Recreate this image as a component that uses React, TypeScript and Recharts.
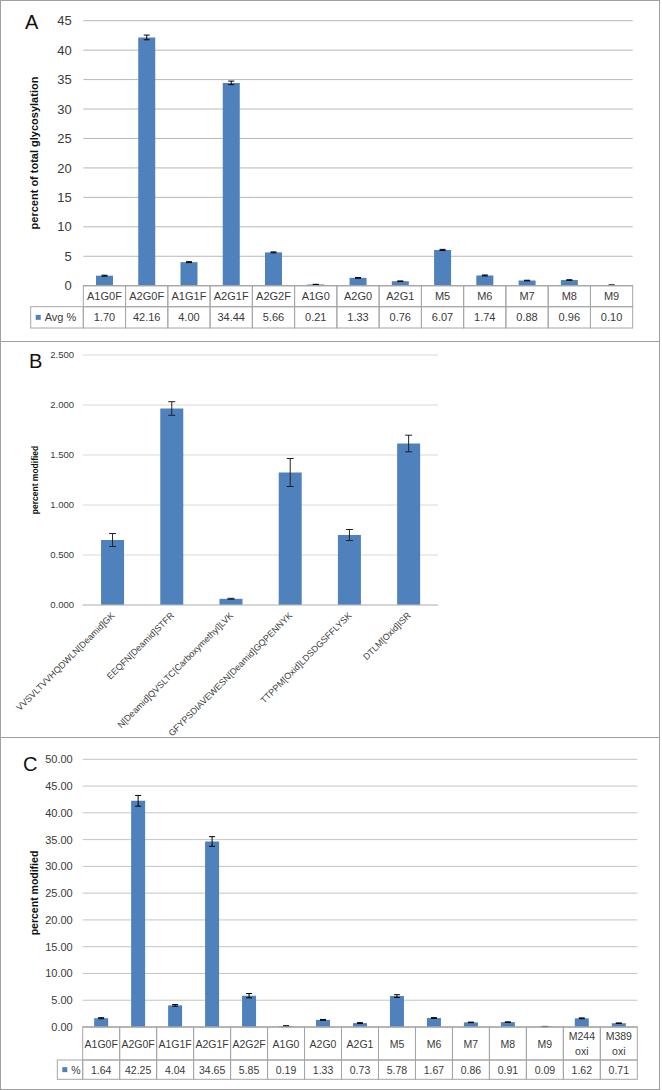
import React from 'react';
import { BarChart, Bar, XAxis, YAxis, CartesianGrid, ErrorBar } from 'recharts';

const FONT = '"Liberation Sans", Arial, sans-serif';
const BLUE = '#4F81BD';
const TXT = '#3a3a3a';
const TBL = '#a6a6a6';

// ---------- Panel A data ----------
const catsA = ['A1G0F', 'A2G0F', 'A1G1F', 'A2G1F', 'A2G2F', 'A1G0', 'A2G0', 'A2G1', 'M5', 'M6', 'M7', 'M8', 'M9'];
const avgA = [1.7, 42.16, 4.0, 34.44, 5.66, 0.21, 1.33, 0.76, 6.07, 1.74, 0.88, 0.96, 0.1];
const errA = [0.08, 0.4, 0.08, 0.3, 0.08, 0.03, 0.06, 0.05, 0.1, 0.08, 0.05, 0.05, 0.02];
const ticksA = [0, 5, 10, 15, 20, 25, 30, 35, 40, 45];

// ---------- Panel B data ----------
const catsB = [
  'VVSVLTVVHQDWLN[Deamid]GK',
  'EEQFN[Deamid]STFR',
  'N[Deamid]QVSLTC[Carboxymethyl]LVK',
  'GFYPSDIAVEWESN[Deamid]GQPENNYK',
  'TTPPM[Oxid]LDSDGSFFLYSK',
  'DTLM[Oxid]ISR',
];
const valsB = [0.65, 1.965, 0.062, 1.325, 0.7, 1.615];
const errB = [0.065, 0.068, 0.005, 0.14, 0.055, 0.083];
const ticksB = [0, 0.5, 1.0, 1.5, 2.0, 2.5];

// ---------- Panel C data ----------
const catsC = ['A1G0F', 'A2G0F', 'A1G1F', 'A2G1F', 'A2G2F', 'A1G0', 'A2G0', 'A2G1', 'M5', 'M6', 'M7', 'M8', 'M9', 'M244 oxi', 'M389 oxi'];
const valsC = [1.64, 42.25, 4.04, 34.65, 5.85, 0.19, 1.33, 0.73, 5.78, 1.67, 0.86, 0.91, 0.09, 1.62, 0.71];
const errC = [0.1, 1.0, 0.15, 0.9, 0.4, 0.04, 0.08, 0.08, 0.25, 0.08, 0.05, 0.05, 0.02, 0.08, 0.05];
const ticksC = [0, 5, 10, 15, 20, 25, 30, 35, 40, 45, 50];

const rows = (cats: string[], vals: number[], errs: number[]) =>
  cats.map((name, i) => ({ name, value: vals[i], err: errs[i] }));

const dataA = rows(catsA, avgA, errA);
const dataB = rows(catsB, valsB, errB);
const dataC = rows(catsC, valsC, errC);

// ---------- layouts ----------
const LA = { w: 662, h: 342, top: 20.7, left: 83.3, right: 632.7, bottom: 285.7, yW: 60, xH: 46 };
const LB = { w: 662, h: 396, top: 14, left: 82.7, right: 438, bottom: 264, yW: 60, xH: 120 };
const LC = { w: 662, h: 352, top: 22.3, left: 82.7, right: 637.3, bottom: 290, yW: 60, xH: 56 };

const marginOf = (L: any) => ({
  top: L.top,
  right: L.w - L.right,
  left: L.left - L.yW,
  bottom: L.h - L.bottom - L.xH,
});

type TableCfg = {
  band: number;
  row1: number;
  row2: number;
  values: number[];
  legendW: number;
  legendLabel: string;
  fs: number;
  lineH: number;
};

const TableTick = (props: any) => {
  const { x, y, payload, index, cfg } = props;
  const c: TableCfg = cfg;
  const left = x - c.band / 2;
  const lines = String(payload.value).split(' ');
  const textProps = {
    fontSize: c.fs,
    fill: TXT,
    fontFamily: FONT,
    textAnchor: 'middle' as const,
    dominantBaseline: 'central' as const,
  };
  return (
    <g>
      <rect x={left} y={y} width={c.band} height={c.row1} fill="none" stroke={TBL} strokeWidth={1} />
      <rect x={left} y={y + c.row1} width={c.band} height={c.row2} fill="none" stroke={TBL} strokeWidth={1} />
      {lines.map((ln, k) => (
        <text key={k} x={x} y={y + c.row1 / 2 + (k - (lines.length - 1) / 2) * c.lineH} {...textProps}>
          {ln}
        </text>
      ))}
      <text x={x} y={y + c.row1 + c.row2 / 2} {...textProps}>
        {c.values[index].toFixed(2)}
      </text>
      {index === 0 && (
        <g>
          <rect
            x={left - c.legendW}
            y={y + c.row1}
            width={c.legendW}
            height={c.row2}
            fill="none"
            stroke={TBL}
            strokeWidth={1}
          />
          <rect x={left - c.legendW + 5} y={y + c.row1 + c.row2 / 2 - 2.5} width={5} height={5} fill={BLUE} />
          <text
            x={left - c.legendW + 14}
            y={y + c.row1 + c.row2 / 2}
            fontSize={c.fs}
            fill={TXT}
            fontFamily={FONT}
            dominantBaseline="central"
          >
            {c.legendLabel}
          </text>
        </g>
      )}
    </g>
  );
};

const SlantTick = (props: any) => {
  const { x, y, payload } = props;
  const ax = x + 3;
  const ay = y + 11;
  return (
    <text
      x={ax}
      y={ay}
      transform={`rotate(-45 ${ax} ${ay})`}
      textAnchor="end"
      fontSize={9}
      fill={TXT}
      fontFamily={FONT}
    >
      {payload.value}
    </text>
  );
};

const cfgA: TableCfg = {
  band: (LA.right - LA.left) / catsA.length,
  row1: 21,
  row2: 21.3,
  values: avgA,
  legendW: 52.6,
  legendLabel: 'Avg %',
  fs: 11,
  lineH: 11,
};

const cfgC: TableCfg = {
  band: (LC.right - LC.left) / catsC.length,
  row1: 33,
  row2: 19.3,
  values: valsC,
  legendW: 25.4,
  legendLabel: '%',
  fs: 10.5,
  lineH: 15,
};

const panelBorder = (top: number, height: number): React.CSSProperties => ({
  position: 'absolute',
  left: 0,
  top,
  width: 660,
  height,
  boxSizing: 'border-box',
  border: '1px solid #a0a0a0',
  pointerEvents: 'none',
});

const letterStyle = (left: number, top: number): React.CSSProperties => ({
  position: 'absolute',
  left,
  top,
  fontFamily: FONT,
  fontSize: 20,
  lineHeight: '20px',
  color: '#111',
});

const yTitleStyle = (cx: number, cy: number, fs: number): React.CSSProperties => ({
  position: 'absolute',
  left: cx,
  top: cy,
  transform: 'translate(-50%, -50%) rotate(-90deg)',
  whiteSpace: 'nowrap',
  fontFamily: FONT,
  fontWeight: 'bold',
  fontSize: fs,
  color: '#111',
  lineHeight: 1,
});

export default function App() {
  return (
    <div style={{ position: 'absolute', left: 0, top: 0, width: 662, height: 1090, background: '#fff', overflow: 'hidden' }}>
      {/* Panel A */}
      <div style={{ position: 'absolute', left: 0, top: 0 }}>
        <BarChart width={LA.w} height={LA.h} data={dataA} margin={marginOf(LA)} barCategoryGap="30%">
          <CartesianGrid vertical={false} stroke="#b8b8b8" />
          <XAxis
            dataKey="name"
            type="category"
            interval={0}
            height={LA.xH}
            tickSize={0}
            tickMargin={0}
            tickLine={false}
            axisLine={{ stroke: TBL }}
            tick={(p: any) => <TableTick {...p} cfg={cfgA} />}
          />
          <YAxis
            type="number"
            domain={[0, 45]}
            ticks={ticksA}
            interval={0}
            width={LA.yW}
            tickLine={false}
            axisLine={false}
            tickSize={6}
            tickMargin={5.6}
            tick={{ fontSize: 13, fill: TXT, fontFamily: FONT }}
          />
          <Bar dataKey="value" fill={BLUE} isAnimationActive={false}>
            <ErrorBar dataKey="err" width={3} stroke="#000" strokeWidth={1} isAnimationActive={false} />
          </Bar>
        </BarChart>
      </div>

      {/* Panel B */}
      <div style={{ position: 'absolute', left: 0, top: 341 }}>
        <BarChart width={LB.w} height={LB.h} data={dataB} margin={marginOf(LB)} barCategoryGap="31%">
          <CartesianGrid vertical={false} stroke="#d9d9d9" />
          <XAxis
            dataKey="name"
            type="category"
            interval={0}
            height={LB.xH}
            tickSize={0}
            tickMargin={0}
            tickLine={false}
            axisLine={{ stroke: '#bfbfbf' }}
            tick={(p: any) => <SlantTick {...p} />}
          />
          <YAxis
            type="number"
            domain={[0, 2.5]}
            ticks={ticksB}
            interval={0}
            width={LB.yW}
            tickLine={false}
            axisLine={false}
            tickSize={6}
            tickMargin={2.7}
            tickFormatter={(v: number) => v.toFixed(3)}
            tick={{ fontSize: 9.5, fill: TXT, fontFamily: FONT }}
          />
          <Bar dataKey="value" fill={BLUE} isAnimationActive={false}>
            <ErrorBar dataKey="err" width={3.5} stroke="#222" strokeWidth={1} isAnimationActive={false} />
          </Bar>
        </BarChart>
      </div>

      {/* Panel C */}
      <div style={{ position: 'absolute', left: 0, top: 737 }}>
        <BarChart width={LC.w} height={LC.h} data={dataC} margin={marginOf(LC)} barCategoryGap="31%">
          <CartesianGrid vertical={false} stroke="#c4c4c4" />
          <XAxis
            dataKey="name"
            type="category"
            interval={0}
            height={LC.xH}
            tickSize={0}
            tickMargin={0}
            tickLine={false}
            axisLine={{ stroke: TBL }}
            tick={(p: any) => <TableTick {...p} cfg={cfgC} />}
          />
          <YAxis
            type="number"
            domain={[0, 50]}
            ticks={ticksC}
            interval={0}
            width={LC.yW}
            tickLine={false}
            axisLine={false}
            tickSize={6}
            tickMargin={4}
            tickFormatter={(v: number) => v.toFixed(2)}
            tick={{ fontSize: 11, fill: TXT, fontFamily: FONT }}
          />
          <Bar dataKey="value" fill={BLUE} isAnimationActive={false}>
            <ErrorBar dataKey="err" width={3} stroke="#000" strokeWidth={1} isAnimationActive={false} />
          </Bar>
        </BarChart>
      </div>

      {/* panel frames */}
      <div style={panelBorder(0, 342)} />
      <div style={panelBorder(341, 397)} />
      <div style={panelBorder(737, 353)} />

      {/* panel letters */}
      <div style={letterStyle(25, 12)}>A</div>
      <div style={letterStyle(29, 351)}>B</div>
      <div style={letterStyle(23, 754)}>C</div>

      {/* y axis titles */}
      <div style={yTitleStyle(34, 153.3, 11)}>percent of total glycosylation</div>
      <div style={yTitleStyle(35, 480, 8.5)}>percent modified</div>
      <div style={yTitleStyle(34.3, 893, 10.5)}>percent modified</div>
    </div>
  );
}
